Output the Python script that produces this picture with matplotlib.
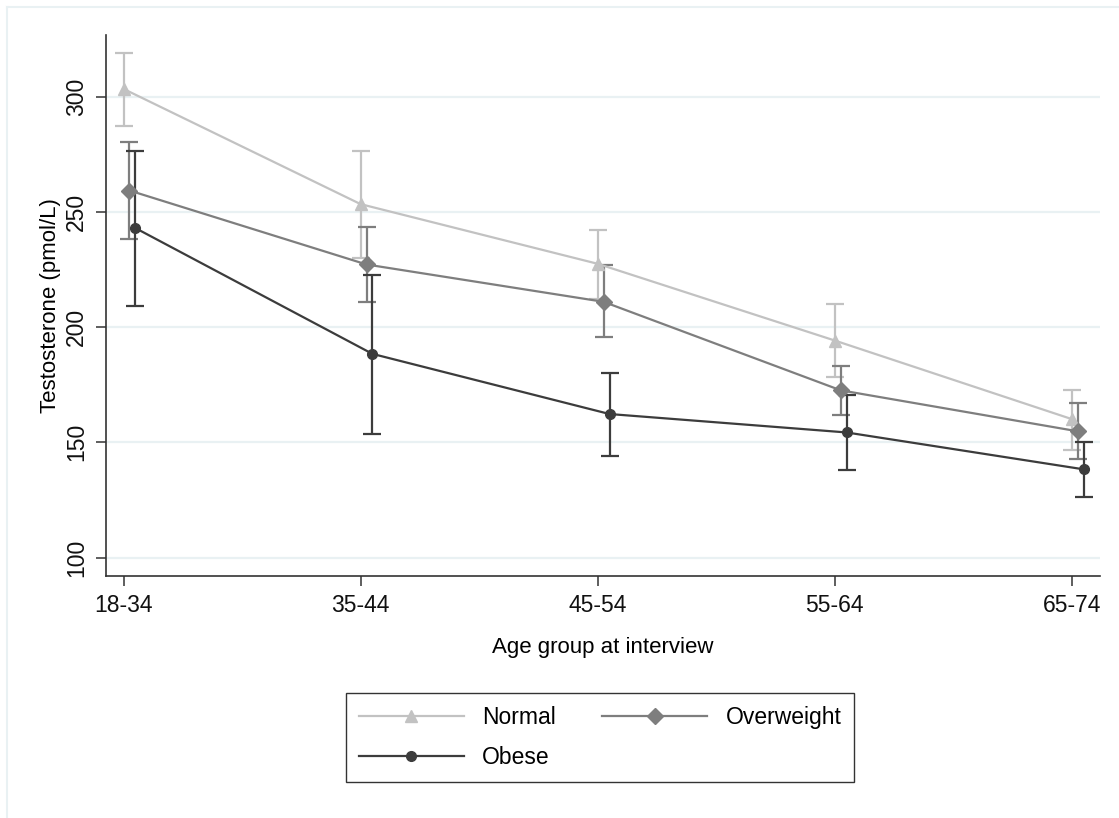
import numpy as np
import matplotlib
matplotlib.use("Agg")
import matplotlib.pyplot as plt
from matplotlib.lines import Line2D

plt.rcParams['font.family'] = ['Liberation Sans', 'DejaVu Sans']

# data
age_groups = ["18-34", "35-44", "45-54", "55-64", "65-74"]

normal_mean = [303.4, 253.4, 227.5, 194.2, 160.1]
normal_lo = [287.5, 229.9, 212.3, 178.4, 146.8]
normal_hi = [318.9, 276.3, 242.0, 210.2, 172.6]

over_mean = [259.3, 227.2, 211.0, 172.6, 154.8]
over_lo = [238.2, 210.8, 195.8, 162.0, 142.8]
over_hi = [280.5, 243.5, 226.8, 183.3, 167.3]

obese_mean = [243.0, 188.4, 162.3, 154.3, 138.3]
obese_lo = [209.3, 153.6, 144.2, 137.8, 126.2]
obese_hi = [276.3, 222.8, 180.1, 170.6, 150.3]

yticks = [100, 150, 200, 250, 300]

series = [
    ("Normal", normal_mean, normal_lo, normal_hi, "#c2c2c2", "^", 9, 0.0),
    ("Overweight", over_mean, over_lo, over_hi, "#7e7e7e", "D", 8, 0.025),
    ("Obese", obese_mean, obese_lo, obese_hi, "#3c3c3c", "o", 7, 0.05),
]

fig = plt.figure(figsize=(11.19, 8.18), dpi=100)
ax = fig.add_axes([106 / 1119, 1 - 576 / 818, (1100 - 106) / 1119, (576 - 35) / 818])

# grid lines
for yv in yticks:
    ax.axhline(yv, color="#e9f1f3", lw=1.6, zorder=0)

handles = {}
base = np.arange(len(age_groups))
for name, m, lo, hi, col, mk, ms, off in series:
    x = base + off
    m = np.array(m)
    err = np.vstack([m - np.array(lo), np.array(hi) - m])
    ax.errorbar(x, m, yerr=err, fmt="none", ecolor=col, elinewidth=1.6,
                capsize=6.5, capthick=1.6, zorder=2)
    ax.plot(x, m, color=col, lw=1.6, marker=mk, markersize=ms,
            markerfacecolor=col, markeredgecolor=col, zorder=3)
    handles[name] = Line2D([], [], color=col, lw=1.6, marker=mk, markersize=ms,
                           markerfacecolor=col, markeredgecolor=col, label=name)

ax.set_xlim(-0.074, 4.119)
ax.set_ylim(92.0, 326.8)
ax.set_xticks(base)
ax.set_xticklabels(age_groups)
ax.set_yticks(yticks)
ax.set_yticklabels([str(v) for v in yticks], rotation=90, va="center")

for s in ["top", "right"]:
    ax.spines[s].set_visible(False)
for s in ["left", "bottom"]:
    ax.spines[s].set_color("#333333")
    ax.spines[s].set_linewidth(1.2)

ax.tick_params(axis="both", length=7, width=1.1, color="#333333",
               labelsize=16.5, colors="#111111")
ax.tick_params(axis="x", pad=6)
ax.tick_params(axis="y", pad=6)

ax.set_xlabel("Age group at interview", fontsize=16, labelpad=14)
ax.set_ylabel("Testosterone (pmol/L)", fontsize=16, labelpad=3)

# row-wise order: Normal, Overweight / Obese
leg_order = ["Normal", "Obese", "Overweight"]
leg = fig.legend(handles=[handles[k] for k in leg_order], ncol=2, loc="center",
                 bbox_to_anchor=(600 / 1119, 1 - 737.5 / 818),
                 fontsize=16.5, frameon=True, fancybox=False,
                 edgecolor="#000000", handlelength=4.6, handletextpad=0.8,
                 columnspacing=2.0, labelspacing=0.75, borderpad=0.55)
leg.get_frame().set_linewidth(1.0)

# faint outer frame (top and left)
fig.add_artist(Line2D([7 / 1119, 1.0], [1 - 6.5 / 818, 1 - 6.5 / 818],
                      transform=fig.transFigure, color="#e9f1f3", lw=1.5))
fig.add_artist(Line2D([7 / 1119, 7 / 1119], [0.0, 1 - 6.5 / 818],
                      transform=fig.transFigure, color="#e9f1f3", lw=1.5))

fig.savefig("out.png", dpi=100, facecolor="white")
